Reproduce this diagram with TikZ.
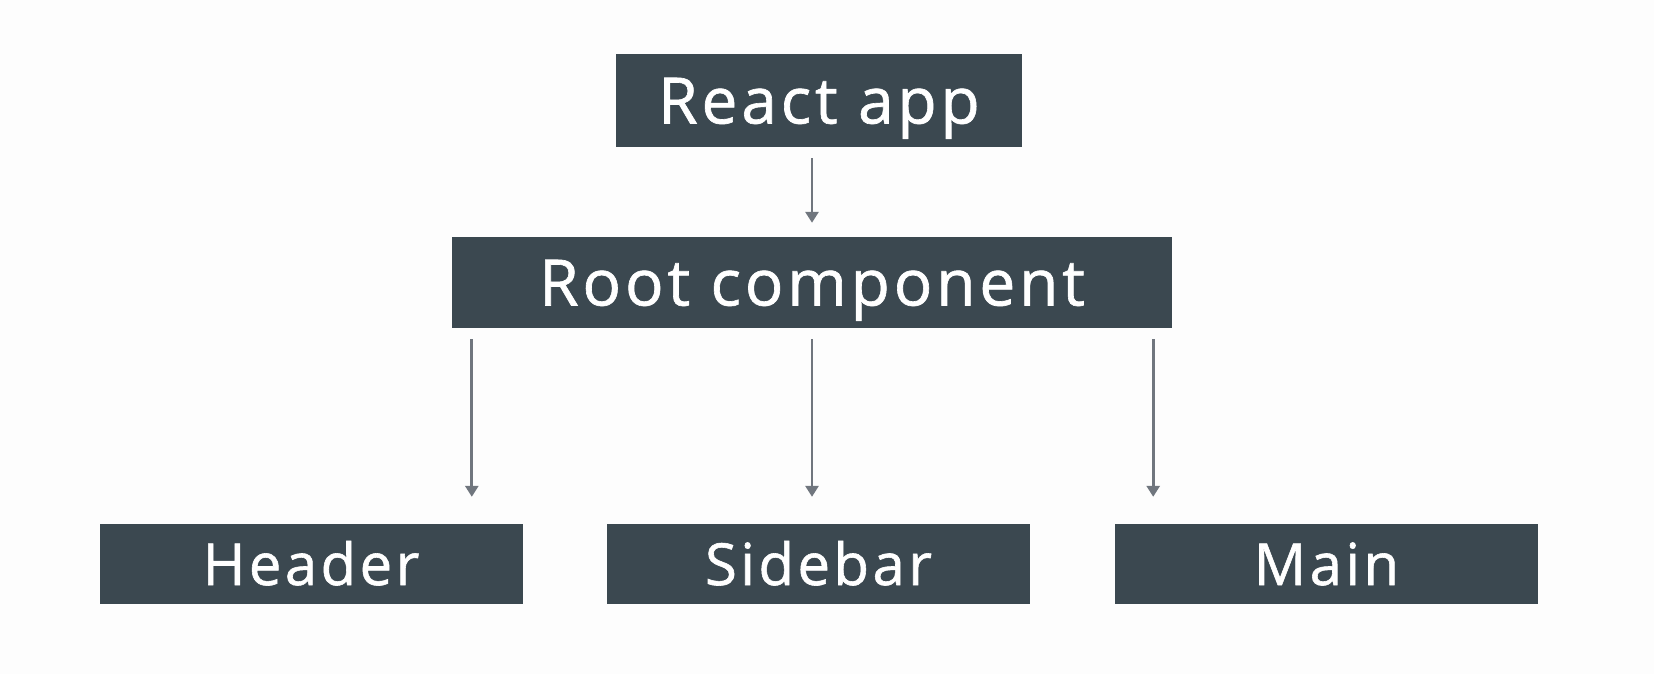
\documentclass[tikz,border=0pt]{standalone}
\usepackage{fontspec}
\setmainfont{Open Sans}[LetterSpace=6,FakeBold=1]
\usetikzlibrary{arrows.meta,calc}
\definecolor{boxfill}{RGB}{59,72,80}
\definecolor{arrowgray}{RGB}{112,118,126}
\definecolor{bg}{RGB}{253,253,253}
\tikzset{
  box/.style={fill=boxfill, draw=none, inner sep=0pt, text=white, anchor=center, text depth=0pt},
  bigbox/.style={box, font=\fontsize{64}{70}\selectfont, text height=46pt},
  smallbox/.style={box, font=\fontsize{58}{64}\selectfont, text height=42pt, minimum width=423pt, minimum height=80pt},
  arr/.style={draw=arrowgray, line width=2.8pt, -{Triangle[width=13pt,length=11pt]}}
}
\begin{document}
\begin{tikzpicture}[x=1pt,y=-1pt]
\fill[bg] (0,0) rectangle (1654,674);
\useasboundingbox (0,0) rectangle (1654,674);
\node[bigbox, minimum width=406pt, minimum height=93pt] (react) at (819,100.5) {React app};
\node[bigbox, minimum width=720pt, minimum height=91pt] (root) at (812,282.5) {Root component};
\node[smallbox] (header) at (311,564) {Header};
\node[smallbox] (sidebar) at (818.5,564) {Sidebar};
\node[smallbox] (main) at (1326.5,564) {Main};
\draw[arr] ($(react.south -| root.north)+(0,11)$) -- ($(root.north)+(0,-14)$);
\draw[arr] ($(root.south west)+(20,11)$) -- ($(root.south west |- header.north)+(20,-27)$);
\draw[arr] ($(root.south)+(0,11)$) -- ($(root.south |- sidebar.north)+(0,-27)$);
\draw[arr] ($(root.south east)+(-19,11)$) -- ($(root.south east |- main.north)+(-19,-27)$);
\end{tikzpicture}
\end{document}
